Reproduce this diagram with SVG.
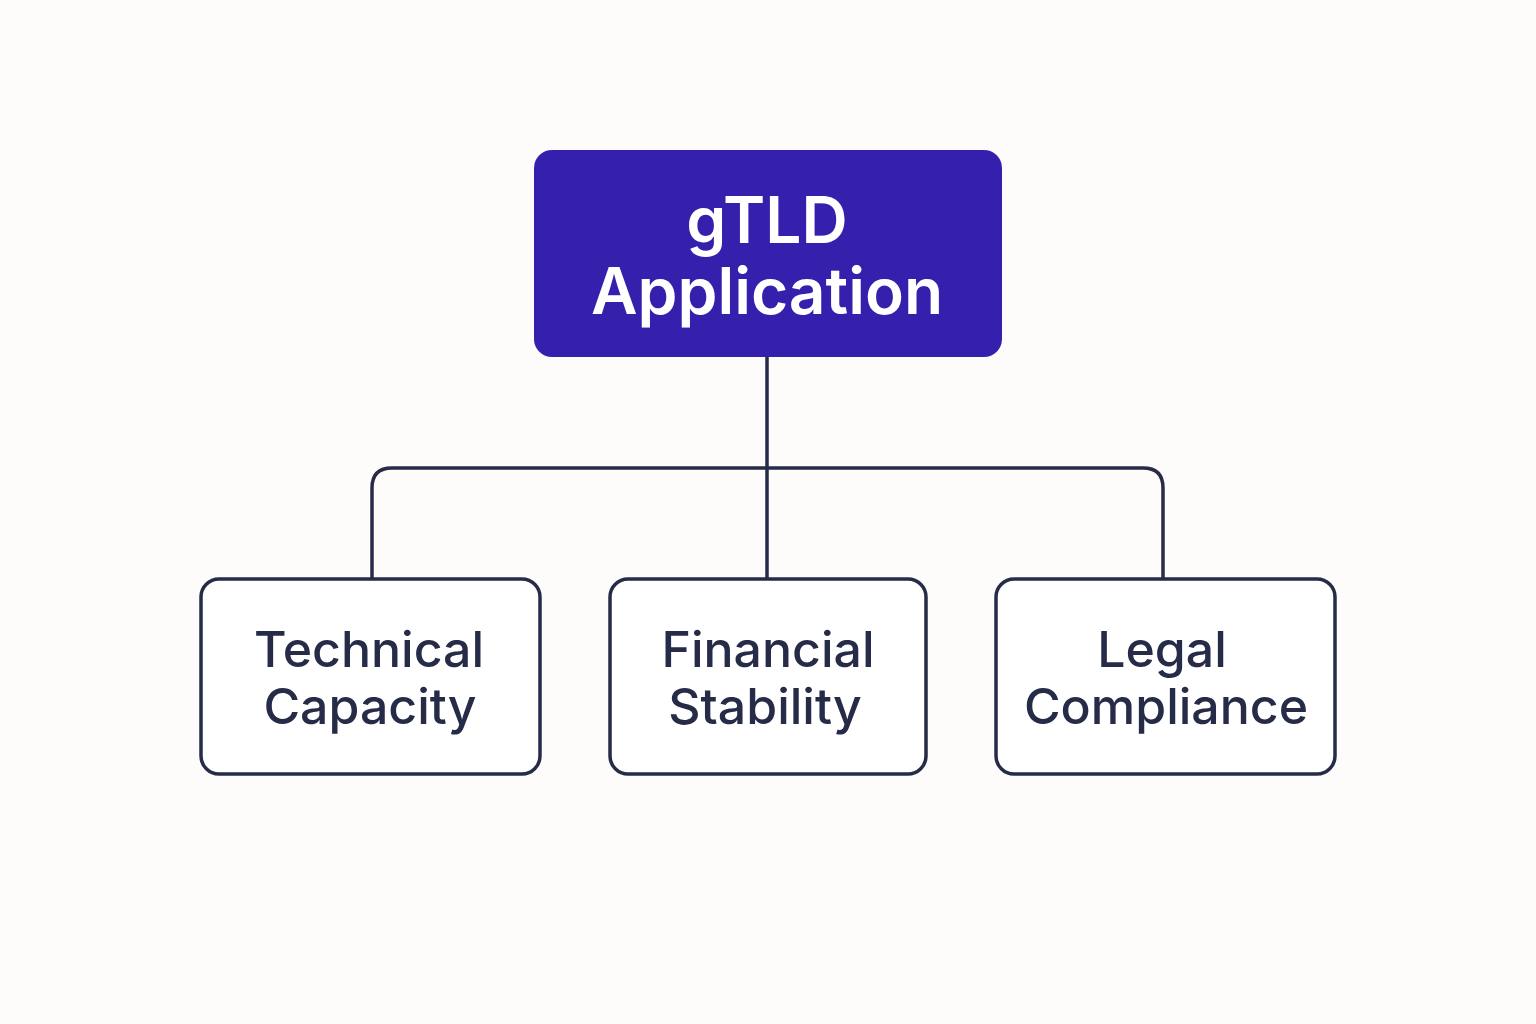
<svg xmlns="http://www.w3.org/2000/svg" width="1536" height="1024" viewBox="0 0 1536 1024">
<style>
.bg{fill:#FDFCFA}
.top{fill:#3520AE}
.child{fill:#FFFFFF;stroke:#262B48;stroke-width:3.5}
.conn{fill:none;stroke:#262B48;stroke-width:3.5;stroke-linejoin:round}
.tt{font-family:Inter,"Liberation Sans",sans-serif;font-size:64px;font-weight:600;fill:#FFFFFF;text-anchor:middle}
.ct{font-family:Inter,"Liberation Sans",sans-serif;font-size:50px;font-weight:500;fill:#262B48;text-anchor:middle}
</style>
<rect class="bg" x="0" y="0" width="1536" height="1024"/>
<g id="connectors">
<path class="conn" d="M767 357 V579"/>
<path class="conn" d="M372 579 V488 Q372 468 392 468 H1143 Q1163 468 1163 488 V579"/>
</g>
<g id="gtld-application">
<rect class="top" x="534" y="150" width="468" height="207" rx="18"/>
<text class="tt" x="767" y="243">gTLD</text>
<text class="tt" x="767" y="314">Application</text>
</g>
<g id="technical-capacity">
<rect class="child" x="201" y="579" width="339" height="195" rx="18"/>
<text class="ct" x="369" y="667">Technical</text>
<text class="ct" x="370" y="724">Capacity</text>
</g>
<g id="financial-stability">
<rect class="child" x="610" y="579" width="316" height="195" rx="18"/>
<text class="ct" x="768" y="667">Financial</text>
<text class="ct" x="765" y="724">Stability</text>
</g>
<g id="legal-compliance">
<rect class="child" x="996" y="579" width="339" height="195" rx="18"/>
<text class="ct" x="1162" y="667">Legal</text>
<text class="ct" x="1166" y="724">Compliance</text>
</g>
</svg>
